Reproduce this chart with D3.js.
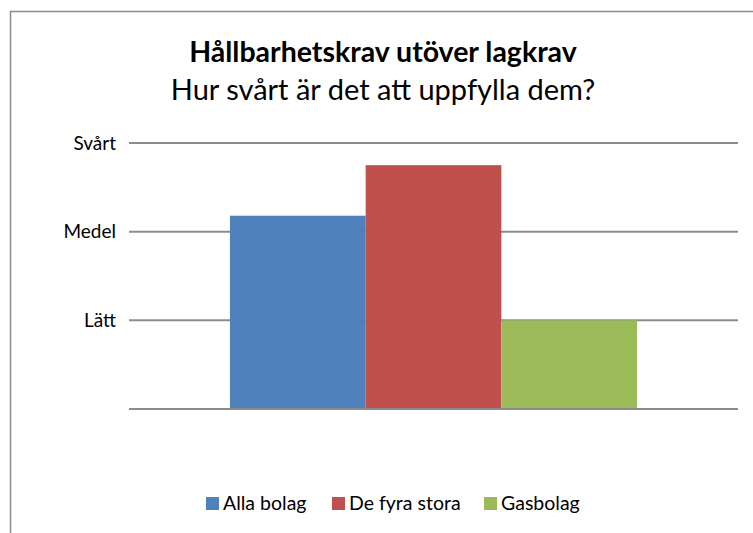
<!DOCTYPE html>
<html>
<head>
<meta charset="utf-8">
<script src="https://cdn.jsdelivr.net/npm/d3@7"></script>
<style>
  body { margin: 0; background: #fff; }
  svg { display: block; font-family: Lato, "Open Sans", sans-serif; }
</style>
</head>
<body>
<div id="chart"></div>
<script>
const series = ["Alla bolag", "De fyra stora", "Gasbolag"];
const values = [2.18, 2.75, 1.0];
const colors = ["#4F81BD", "#C0504D", "#9BBB59"];
const tickValues = [0, 1, 2, 3];
const tickLabels = ["", "Lätt", "Medel", "Svårt"];

const width = 753, height = 533;
const plot = { left: 129, right: 738, top: 143, bottom: 409 };

const svg = d3.select("#chart").append("svg")
    .attr("width", width)
    .attr("height", height);

// chart border (right and bottom fall outside the window)
svg.append("path")
    .attr("d", `M10.5,${height + 5}V11.5H${width + 5}`)
    .attr("fill", "none")
    .attr("stroke", "#8c8c8c")
    .attr("stroke-width", 1.5);

const y = d3.scaleLinear()
    .domain([0, 3])
    .range([plot.bottom, plot.top]);

const group = d3.scaleBand()
    .domain(["all"])
    .range([plot.left, plot.right])
    .paddingOuter(0.248);

const x = d3.scaleBand()
    .domain(series)
    .range([group("all"), group("all") + group.bandwidth()]);

// gridlines
svg.append("g")
  .selectAll("line")
  .data(tickValues)
  .join("line")
    .attr("x1", plot.left)
    .attr("x2", plot.right)
    .attr("y1", d => y(d))
    .attr("y2", d => y(d))
    .attr("stroke", "#8c8c8c")
    .attr("stroke-width", 2);

// tick labels
svg.append("g")
    .attr("font-size", 19)
    .attr("text-anchor", "end")
    .attr("fill", "#000")
  .selectAll("text")
  .data(tickValues)
  .join("text")
    .attr("x", plot.left - 13)
    .attr("y", d => y(d))
    .attr("dy", "0.35em")
    .text((d, i) => tickLabels[i]);

// bars
svg.append("g")
  .selectAll("rect")
  .data(values)
  .join("rect")
    .attr("x", (d, i) => x(series[i]))
    .attr("y", d => y(d))
    .attr("width", x.bandwidth())
    .attr("height", d => y(0) - y(d))
    .attr("fill", (d, i) => colors[i]);

// redraw baseline over bars
svg.append("line")
    .attr("x1", plot.left)
    .attr("x2", plot.right)
    .attr("y1", y(0))
    .attr("y2", y(0))
    .attr("stroke", "#8c8c8c")
    .attr("stroke-width", 2);

// titles
svg.append("text")
    .attr("x", 383)
    .attr("y", 62)
    .attr("text-anchor", "middle")
    .attr("font-size", 28.5)
    .attr("font-weight", "bold")
    .text("Hållbarhetskrav utöver lagkrav");

svg.append("text")
    .attr("x", 383)
    .attr("y", 100)
    .attr("text-anchor", "middle")
    .attr("font-size", 29)
    .text("Hur svårt är det att uppfylla dem?");

// legend
const legendX = [206, 332, 484];
const legend = svg.append("g")
    .attr("font-size", 19.5)
  .selectAll("g")
  .data(series)
  .join("g")
    .attr("transform", (d, i) => `translate(${legendX[i]},497)`);

legend.append("rect")
    .attr("width", 13)
    .attr("height", 13)
    .attr("fill", (d, i) => colors[i]);

legend.append("text")
    .attr("x", 17)
    .attr("y", 13)
    .text(d => d);
</script>
</body>
</html>
